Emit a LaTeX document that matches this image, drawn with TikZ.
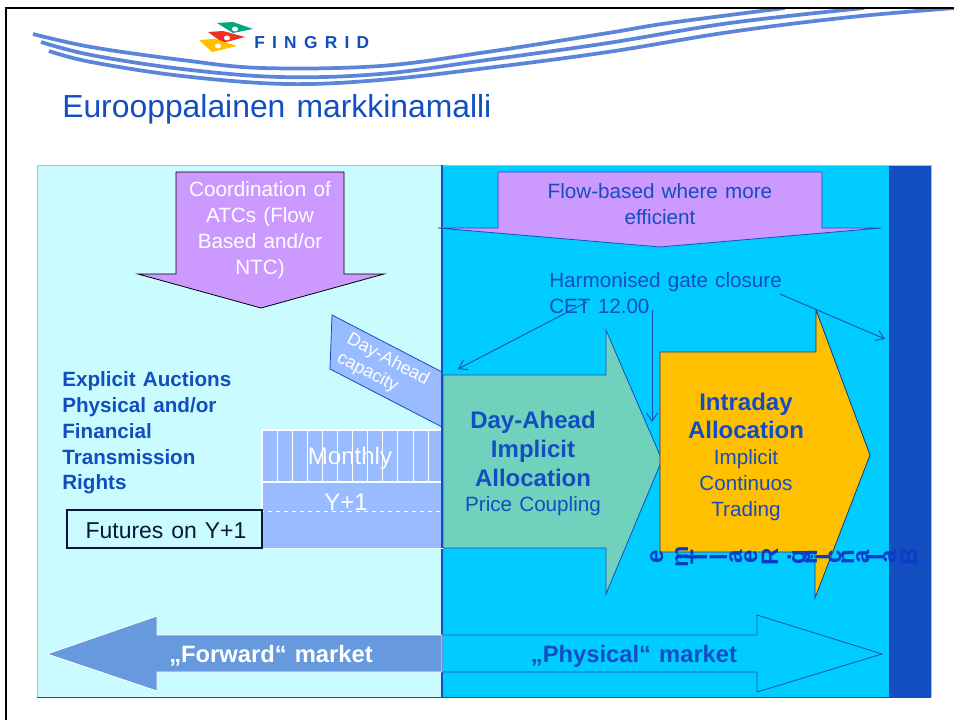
\documentclass[tikz,border=0pt]{standalone}
\usepackage{fontspec}
\setmainfont[WordSpace = 1.25]{Liberation Sans}
\usepackage{tikz}
\usetikzlibrary{math}
\usetikzlibrary{arrows.meta}
\definecolor{fgblue}{HTML}{134EC0}
\definecolor{fgglyph}{HTML}{0A3CC8}
\definecolor{fgwave}{HTML}{5B85D8}
\definecolor{fgpale}{HTML}{C9FBFF}
\definecolor{fgsky}{HTML}{00CCFF}
\definecolor{fgviolet}{HTML}{CC99FF}
\definecolor{fgcap}{HTML}{99BBFF}
\definecolor{fggreen}{HTML}{70D2BC}
\definecolor{fgorange}{HTML}{FFC000}
\definecolor{fgsteel}{HTML}{6699DD}
\definecolor{fgflaggreen}{HTML}{00A67C}
\definecolor{fgflagred}{HTML}{F03020}
\begin{document}
\begin{tikzpicture}[x = .75pt, y = -.75pt,
	bluetext/.style = {text = fgblue, inner sep = 0, align = center, font = \fontsize{15.5}{19.5}\selectfont},
	boldtext/.style = {bluetext, font = \fontsize{15.5}{19.3}\selectfont\bfseries},
	bigtext/.style = {bluetext, font = \fontsize{18}{21.5}\selectfont\bfseries},
	whitetext/.style = {text = white, inner sep = 0, align = center, font = \fontsize{18}{22}\selectfont},
	turnedglyph/.style = {text = fgglyph, inner sep = 0, anchor = base, rotate = 90, font = \fontsize{18}{18}\selectfont\bfseries},
	blueline/.style = {draw = fgblue, line width = .6pt},
	callout/.style = {draw = fgblue, line width = .7pt, -{Straight Barb[length = 6pt, width = 8pt]}},
	waveline/.style = {fgwave, line width = 2.8pt}]

	\useasboundingbox (0,0) rectangle (954,720);
	\tikzmath{\x1 = 442;};
	\tikzmath{\x2 = 889;};

	\draw [waveline] plot [smooth, tension = .6] coordinates {(33,34) (91,47) (182,60) (262,68) (380,66) (487,52) (608,33) (669,23) (785,8)};
	\draw [waveline] plot [smooth, tension = .6] coordinates {(41,42) (91,55) (182,69) (280,77) (380,74) (487,60) (608,43) (730,23) (864,8)};
	\draw [waveline] plot [smooth, tension = .6] coordinates {(49,51) (91,62) (182,76) (286,84) (380,80) (487,68) (608,52) (730,32) (851,17) (955,8)};
	\fill [white] (0,0) rectangle (954,8);
	\draw [line width = 1.5pt] (6,720) -- (6,8) -- (954,8);

	\fill [fgflaggreen] (217,23) -- (233,22) -- (253,29) -- (233,33) -- cycle;
	\fill [fgflagred] (208,32) -- (223,31) -- (245,37) -- (223,43) -- cycle;
	\fill [fgorange] (199,40) -- (215,39) -- (237,46) -- (212,52) -- cycle;
	\fill [white] (235,29) ellipse (3 and 2.5) (227,38) ellipse (3 and 2.5) (218,46) ellipse (3 and 2.5);
	\node [anchor = west, inner sep = 0, text = fgblue, font = \fontsize{13}{13}\selectfont\bfseries\addfontfeature{LetterSpace = 42}] (fingrid) at (254,43) {FINGRID};

	\node [anchor = west, inner sep = 0, text = fgblue, font = \fontsize{23.9}{24}\selectfont] (title) at (62,109) {Eurooppalainen markkinamalli};

	\fill [fgpale] (37,165) rectangle (\x1,697);
	\fill [fgsky] (\x1,165) rectangle (\x2,697);
	\fill [fgblue] (\x2,165) rectangle (931,697);
	\draw [fgcap, line width = .6pt] (37,697) -- (37,165) -- (931,165) -- (931,697);
	\draw [blueline] (37,697) -- (931,697);
	\draw [blueline, line width = .9pt] (\x1,165) -- (\x1,697);

	\draw [fill = fgviolet, line width = .6pt] (176,172) -- (344,172) -- (344,274) -- (384,274) -- (261,308) -- (138,274) -- (176,274) -- cycle;
	\node [whitetext, font = \fontsize{15.5}{19.5}\selectfont] (atcs) at (260,230) {Coordination of\\ATCs (Flow\\Based and/or\\NTC)};

	\draw [fill = fgviolet, blueline] (498,172) -- (822,172) -- (822,228) -- (881,228) -- (660,247) -- (438,228) -- (498,228) -- cycle;
	\node [bluetext] (flowbased) at (660,204) {Flow-based where more\\efficient};

	\draw [fill = fggreen, blueline] (443,375) -- (606,375) -- (606,330) -- (662,460) -- (606,594) -- (606,548) -- (443,548) -- cycle;
	\draw [fill = fgorange, draw = fgblue!70!black, line width = .6pt] (660,352) -- (816,352) -- (816,310) -- (870,455) -- (815,598) -- (815,552) -- (660,552) -- cycle;

	\draw [fill = fgcap, blueline] (332,315) -- (442,372) -- (442,427) -- (330,369) -- cycle;
	\node [whitetext, rotate = -28, align = left, font = \fontsize{13.5}{15.5}\selectfont] (capacity) at (383,369) {Day-Ahead\\capacity};

	\draw [fill = fgcap, draw = white, line width = .8pt] (262,430) rectangle (442,482);
	\foreach \i in {1,...,11}
		\draw [white, line width = .7pt] (262 + \i * 15.1,430) -- (262 + \i * 15.1,482);
	\draw [fill = fgcap, draw = white, line width = .8pt] (262,482) rectangle (442,512);
	\node [whitetext] (monthly) at (350,458) {Monthly};
	\node [whitetext] (yplus) at (346,502) {Y+1};
	\draw [fill = fgcap, draw = white, dashed, line width = .7pt] (262,511) rectangle (442,548);
	\draw [blueline, line width = 1pt] (442,372) -- (442,548);

	\draw [fill = fgpale, draw = black!70!fgblue, line width = .8pt] (67,510) rectangle (262,548);
	\node [inner sep = 0, text = black!70!fgblue, font = \fontsize{17.2}{20}\selectfont] (futures) at (166,531) {Futures on Y+1};

	\node [boldtext, anchor = west, align = left] (explicit) at (62,433) {Explicit Auctions\\Physical and/or\\Financial\\Transmission\\Rights};

	\node [bluetext, anchor = west, align = left] (gate) at (549,293) {Harmonised gate closure\\CET 12.00};
	\coordinate (gatea) at (587,302);
	\coordinate (gateb) at (652,310);
	\coordinate (gatec) at (780,294);
	\coordinate (dayahead) at (458,369);
	\coordinate (intraday) at (652,422);
	\coordinate (balance) at (885,339);
	\draw [callout] (gatea) -- (dayahead);
	\draw [callout] (gateb) -- (intraday);
	\draw [callout] (gatec) -- (balance);

	\node [bigtext] (implicit) at (533,449) {Day-Ahead\\Implicit\\Allocation};
	\node [bluetext] (coupling) at (533,506) {Price Coupling};
	\node [bigtext] (allocation) at (746,416) {Intraday\\Allocation};
	\node [bluetext] (continuos) at (746,485) {Implicit\\Continuos\\Trading};

	\foreach \ch/\px in {B/917,a/896,l/883,a/869,n/854,c/841,i/828,n/817,g/805,./791,R/778,e/757,a/742,l/727,T/707,i/697,m/688,e/663}
		\node [turnedglyph] (glyph\px) at (\px,557) {\ch};

	\draw [fill = fgsteel, draw = white, line width = .6pt] (47,654) -- (157,616) -- (157,635) -- (\x1,635) -- (\x1,672) -- (157,672) -- (157,691) -- cycle;
	\node [whitetext, font = \fontsize{17.8}{22}\selectfont\bfseries] (forward) at (271,656) {„Forward“ market};

	\draw [blueline] (\x1,635) -- (757,635) -- (757,615) -- (882,654) -- (757,692) -- (757,672) -- (\x1,672);
	\node [bigtext, font = \fontsize{17.8}{22}\selectfont\bfseries] (physical) at (634,656) {„Physical“ market};

\end{tikzpicture}
\end{document}
